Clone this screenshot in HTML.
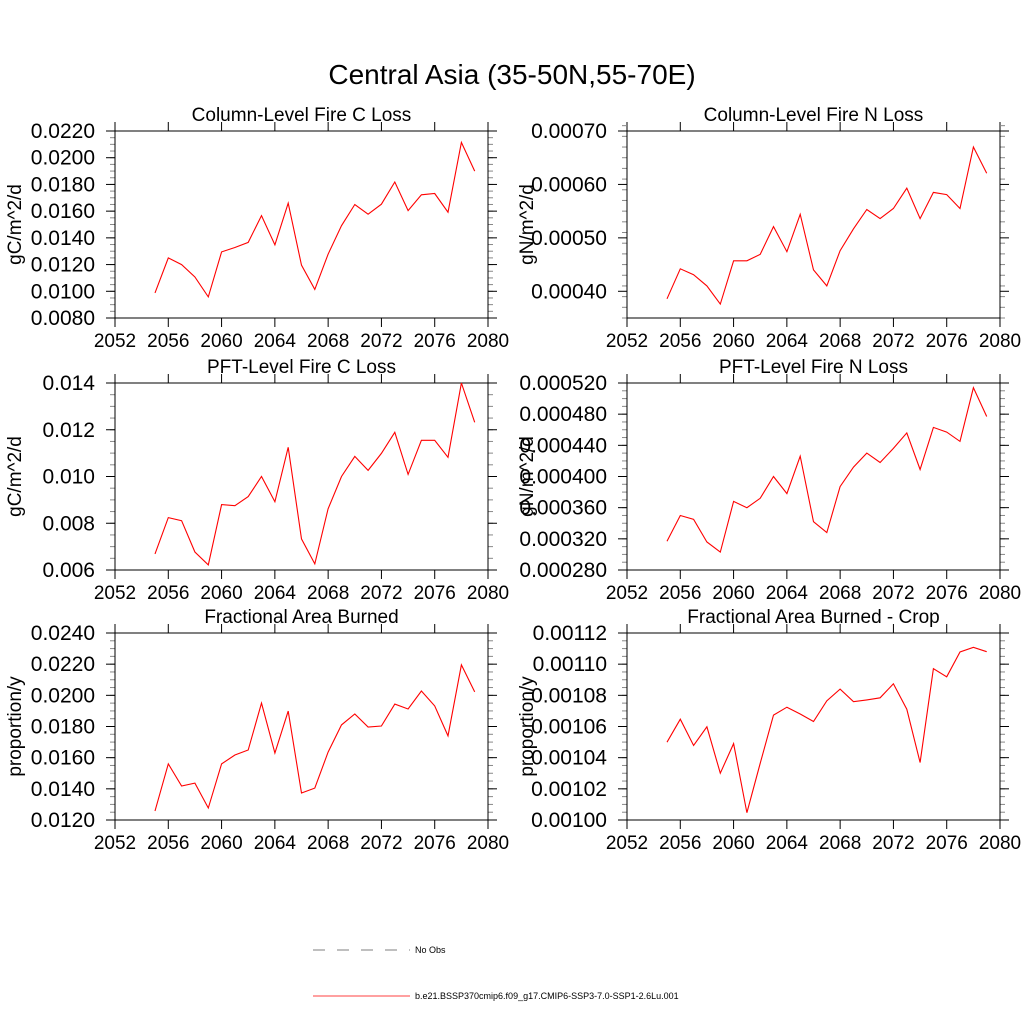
<!DOCTYPE html>
<html><head><meta charset="utf-8"><style>
body{margin:0;background:#fff}
svg text{font-family:"Liberation Sans",sans-serif;fill:#000}
</style></head><body>
<svg id="c" width="1024" height="1024" xmlns="http://www.w3.org/2000/svg">
<text x="512" y="84" font-size="28" text-anchor="middle">Central Asia (35-50N,55-70E)</text>
<g>
<line x1="313" y1="950" x2="410" y2="950" stroke="#000" stroke-width="0.6" stroke-dasharray="12,12"/>
<text x="415" y="953" font-size="9">No Obs</text>
<line x1="313" y1="996" x2="410" y2="996" stroke="#f00" stroke-width="0.8"/>
<text x="415" y="999" font-size="9">b.e21.BSSP370cmip6.f09_g17.CMIP6-SSP3-7.0-SSP1-2.6Lu.001</text>
</g>
</svg>
<script>
const years=[2055,2056,2057,2058,2059,2060,2061,2062,2063,2064,2065,2066,2067,2068,2069,2070,2071,2072,2073,2074,2075,2076,2077,2078,2079];
const xTicks=[2052,2056,2060,2064,2068,2072,2076,2080];
const colC=[0.00988,0.0125,0.0120,0.01107,0.00958,0.01295,0.01328,0.01366,0.01567,0.01348,0.0166,0.01195,0.01014,0.01278,0.01491,0.0165,0.01577,0.01652,0.01818,0.01604,0.01722,0.01732,0.01592,0.02115,0.0190];
const colN=[0.000386,0.000442,0.000431,0.00041,0.000376,0.000457,0.000457,0.000469,0.000521,0.000474,0.000544,0.00044,0.00041,0.000476,0.000517,0.000553,0.000536,0.000555,0.000593,0.000536,0.000585,0.000581,0.000555,0.00067,0.000621];
const pftC=[0.00669,0.00824,0.00811,0.00677,0.00622,0.0088,0.00875,0.00914,0.0100,0.00892,0.01125,0.00733,0.00626,0.00862,0.0100,0.01086,0.01026,0.01099,0.01189,0.01009,0.01155,0.01155,0.01082,0.0140,0.01232];
const pftN=[0.000317,0.00035,0.000345,0.000316,0.000303,0.000368,0.00036,0.000372,0.0004,0.000378,0.000426,0.000342,0.000328,0.000387,0.000412,0.00043,0.000418,0.000436,0.000456,0.000409,0.000463,0.000457,0.000445,0.000514,0.000477];
const fab=[0.01258,0.0156,0.01418,0.01437,0.01277,0.0156,0.01617,0.01649,0.0195,0.0163,0.01899,0.01373,0.01405,0.01636,0.0181,0.0188,0.01797,0.01803,0.01944,0.01912,0.02028,0.01932,0.0174,0.02195,0.02022];
const fabCrop=[0.0010499,0.0010647,0.0010478,0.0010598,0.00103,0.001049,0.0010047,0.0010364,0.0010673,0.0010724,0.001068,0.0010632,0.0010765,0.001084,0.0010759,0.0010771,0.0010784,0.0010874,0.0010711,0.0010369,0.0010971,0.0010919,0.0011078,0.0011108,0.001108];
const yTicks1=["0.0080","0.0100","0.0120","0.0140","0.0160","0.0180","0.0200","0.0220"];
const yTicks2=["0.00040","0.00050","0.00060","0.00070"];
const yTicks3=["0.006","0.008","0.010","0.012","0.014"];
const yTicks4=["0.000280","0.000320","0.000360","0.000400","0.000440","0.000480","0.000520"];
const yTicks5=["0.0120","0.0140","0.0160","0.0180","0.0200","0.0220","0.0240"];
const yTicks6=["0.00100","0.00102","0.00104","0.00106","0.00108","0.00110","0.00112"];
const NS="http://www.w3.org/2000/svg";
const svg=document.getElementById('c');
function mk(t,a,p){const e=document.createElementNS(NS,t);for(const k in a)e.setAttribute(k,a[k]);(p||svg).appendChild(e);return e;}
const panels=[
{name:'column-fire-c',title:'Column-Level Fire C Loss',yl:'gC/m^2/d',x0:115,y0:131,data:colC,ymin:0.008,ymax:0.022,ticks:yTicks1,minorStep:0.0005},
{name:'column-fire-n',title:'Column-Level Fire N Loss',yl:'gN/m^2/d',x0:627,y0:131,data:colN,ymin:0.00035,ymax:0.0007,ticks:yTicks2,minorStep:0.00002},
{name:'pft-fire-c',title:'PFT-Level Fire C Loss',yl:'gC/m^2/d',x0:115,y0:383,data:pftC,ymin:0.006,ymax:0.014,ticks:yTicks3,minorStep:0.0005},
{name:'pft-fire-n',title:'PFT-Level Fire N Loss',yl:'gN/m^2/d',x0:627,y0:383,data:pftN,ymin:0.00028,ymax:0.00052,ticks:yTicks4,minorStep:0.00001},
{name:'area-burned',title:'Fractional Area Burned',yl:'proportion/y',x0:115,y0:633,data:fab,ymin:0.012,ymax:0.024,ticks:yTicks5,minorStep:0.0005},
{name:'area-burned-crop',title:'Fractional Area Burned - Crop',yl:'proportion/y',x0:627,y0:633,data:fabCrop,ymin:0.001,ymax:0.00112,ticks:yTicks6,minorStep:0.000005}
];
const W=373,H=187;
panels.forEach(p=>{
 const g=mk('g',{});
 
 
 const xs=v=>p.x0+(v-2052)/(2080-2052)*W;
 const ys=v=>p.y0+H-(v-p.ymin)/(p.ymax-p.ymin)*H;
 const t=mk('text',{x:p.x0+W/2,y:p.y0-10,'font-size':19,'text-anchor':'middle'},g);t.textContent=p.title;
 
 const yt=mk('text',{x:0,y:0,'font-size':19,'text-anchor':'middle',transform:`translate(${p.x0-94},${p.y0+H/2}) rotate(-90)`},g);yt.textContent=p.yl;
 
 xTicks.forEach(v=>{const X=xs(v);
  mk('line',{x1:X,y1:p.y0,x2:X,y2:p.y0-9,stroke:'#000','stroke-width':1},g);
  mk('line',{x1:X,y1:p.y0+H,x2:X,y2:p.y0+H+9,stroke:'#000','stroke-width':1},g);
  const tx=mk('text',{x:X,y:p.y0+H+29,'font-size':19,'text-anchor':'middle'},g);tx.textContent=v;
  });
 const n=Math.round((p.ymax-p.ymin)/p.minorStep);
 for(let i=0;i<=n;i++){const v=p.ymin+i*p.minorStep;const Y=ys(v);
  mk('line',{x1:p.x0,y1:Y,x2:p.x0-5,y2:Y,stroke:'#888','stroke-width':1},g);
  mk('line',{x1:p.x0+W,y1:Y,x2:p.x0+W+5,y2:Y,stroke:'#888','stroke-width':1},g);}
 p.ticks.forEach(s=>{const v=parseFloat(s);const Y=ys(v);
  mk('line',{x1:p.x0,y1:Y,x2:p.x0-9,y2:Y,stroke:'#000','stroke-width':1},g);
  mk('line',{x1:p.x0+W,y1:Y,x2:p.x0+W+9,y2:Y,stroke:'#000','stroke-width':1},g);
  const ty=mk('text',{x:p.x0-20,y:Y+7,'font-size':21,'text-anchor':'end'},g);ty.textContent=s;
  });
 const fr=mk('rect',{x:p.x0,y:p.y0,width:W,height:H,fill:'none',stroke:'#000','stroke-width':1},g);
 
 const pts=years.map((y,i)=>xs(y).toFixed(1)+','+ys(p.data[i]).toFixed(1)).join(' ');
 const ln=mk('polyline',{points:pts,fill:'none',stroke:'#f00','stroke-width':1.1},g);
 
});
</script>
</body></html>
